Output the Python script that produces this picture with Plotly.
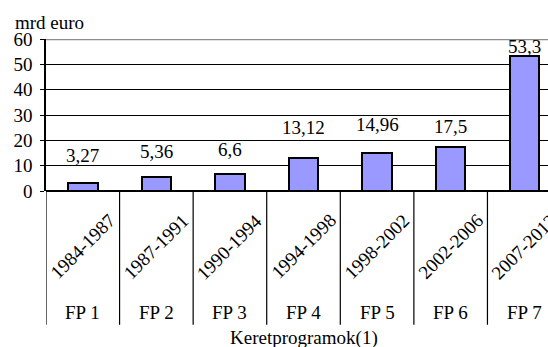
import plotly.graph_objects as go

# Framework programme budgets (billion euro)
programmes = ["FP 1", "FP 2", "FP 3", "FP 4", "FP 5", "FP 6", "FP 7"]
periods = ["1984-1987", "1987-1991", "1990-1994", "1994-1998",
           "1998-2002", "2002-2006", "2007-2013"]
budgets = [3.27, 5.36, 6.6, 13.12, 14.96, 17.5, 53.3]
value_labels = ["3,27", "5,36", "6,6", "13,12", "14,96", "17,5", "53,3"]
y_ticks = [0, 10, 20, 30, 40, 50, 60]

# vertical lift (px) of each value label above its bar
label_lift = [15, 13, 12, 18, 16, 8, -3]

FONT = "Liberation Serif"
FS = 19

xpos = list(range(len(programmes)))

fig = go.Figure()
fig.add_trace(go.Bar(
    x=xpos, y=budgets, width=0.4,
    marker=dict(color="#9999FF", line=dict(color="black", width=2)),
    hoverinfo="skip",
))

annotations = []
for i, (v, lab, lift) in enumerate(zip(budgets, value_labels, label_lift)):
    annotations.append(dict(x=i, y=v, xref="x", yref="y", text=lab,
                            showarrow=False, yanchor="bottom", yshift=lift,
                            font=dict(family=FONT, size=FS, color="black")))
for i, p in enumerate(periods):
    annotations.append(dict(x=i, y=-0.368, xref="x", yref="paper", text=p,
                            showarrow=False, textangle=-45,
                            xanchor="center", yanchor="middle",
                            font=dict(family=FONT, size=FS, color="black")))
for i, p in enumerate(programmes):
    annotations.append(dict(x=i, y=-0.80, xref="x", yref="paper", text=p,
                            showarrow=False, xanchor="center", yanchor="middle",
                            font=dict(family=FONT, size=FS, color="black")))
annotations.append(dict(x=sum(xpos) / len(xpos), y=-0.965, xref="x", yref="paper",
                        text="Keretprogramok(1)", showarrow=False,
                        xanchor="center", yanchor="middle",
                        font=dict(family=FONT, size=FS, color="black")))
annotations.append(dict(x=-0.0665, y=1.107, xref="paper", yref="paper",
                        text="mrd euro", showarrow=False,
                        xanchor="left", yanchor="middle",
                        font=dict(family=FONT, size=FS, color="black")))

shapes = []
# category dividers below the axis
for i in xpos:
    shapes.append(dict(type="line", xref="x", yref="paper",
                       x0=i - 0.5, x1=i - 0.5, y0=0, y1=-0.88,
                       line=dict(color="black", width=1.2)))
# plot-area top border
shapes.append(dict(type="line", xref="paper", yref="y", x0=0, x1=1,
                   y0=y_ticks[-1], y1=y_ticks[-1],
                   line=dict(color="#8c8c8c", width=2.5)))

fig.update_layout(
    width=548, height=347,
    margin=dict(l=46, r=0, t=39, b=156),
    paper_bgcolor="white", plot_bgcolor="white",
    showlegend=False,
    bargap=0,
    font=dict(family=FONT, size=FS, color="black"),
    annotations=annotations,
    shapes=shapes,
    xaxis=dict(range=[-0.5, 6.323], showticklabels=False, ticks="",
               showgrid=False, zeroline=False, showline=False, fixedrange=True),
    yaxis=dict(range=[y_ticks[0], y_ticks[-1]], tickvals=y_ticks,
               ticks="outside", ticklen=4, tickcolor="black", tickwidth=1.2,
               ticklabelstandoff=4,
               showgrid=True, gridcolor="black", gridwidth=1,
               zeroline=True, zerolinecolor="black", zerolinewidth=1.8,
               showline=True, linecolor="black", linewidth=1.5,
               tickfont=dict(family=FONT, size=FS, color="black"),
               fixedrange=True),
)

fig.write_html("out.html")
